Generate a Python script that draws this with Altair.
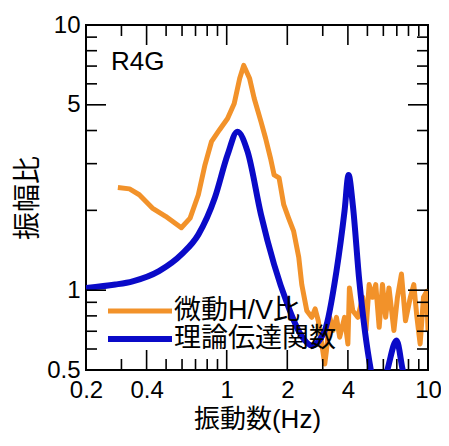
import altair as alt
import pandas as pd

# ---- data ----
hv_freq = [0.288, 0.329, 0.368, 0.427, 0.497, 0.595, 0.658, 0.723, 0.78, 0.84, 0.92, 1.01,
           1.09, 1.16, 1.215, 1.30, 1.37, 1.48, 1.56, 1.65, 1.72, 1.82, 1.92, 2.03, 2.15,
           2.28, 2.36, 2.50, 2.645, 2.75, 2.85, 3.07, 3.13, 3.25, 3.38, 3.51, 3.64, 3.85,
           4.0, 4.07, 4.23, 4.48, 4.74, 4.92, 5.1, 5.3, 5.5, 5.72, 5.94, 6.16, 6.4, 6.77,
           7.05, 7.38, 7.73, 8.17, 8.5, 8.81, 9.14, 9.5, 9.86, 10.0]
hv_amp = [2.44, 2.41, 2.29, 2.04, 1.90, 1.72, 1.87, 2.29, 2.97, 3.63, 4.02, 4.44,
          5.06, 6.28, 7.04, 6.28, 5.28, 4.32, 3.74, 3.15, 2.72, 2.65, 2.10, 1.87, 1.67,
          1.33, 1.05, 0.837, 0.79, 0.85, 0.767, 0.527, 0.593, 0.79, 0.705, 0.79, 0.665, 0.79,
          0.627, 1.02, 0.837, 0.79, 0.94, 0.705, 1.05, 0.94, 1.05, 0.724, 1.05, 0.79, 1.02, 0.705,
          0.94, 1.15, 0.767, 0.94, 1.05, 0.79, 0.627, 0.94, 0.99, 0.70]

tf_freq = [0.2, 0.28, 0.341, 0.461, 0.60, 0.723, 0.873, 1.01, 1.13, 1.27, 1.48, 1.72, 2.0,
           2.32, 2.645, 3.07, 3.51, 3.85, 4.03, 4.23, 4.56, 5.2, 5.7, 6.28, 6.98, 7.49, 8.3, 10.0]
tf_amp = [1.02, 1.05, 1.08, 1.18, 1.37, 1.62, 2.23, 3.24, 3.96, 3.33, 1.93, 1.25, 0.887,
          0.684, 0.619, 0.705, 1.18, 1.99, 2.72, 2.10, 1.08, 0.5, 0.38, 0.5, 0.646, 0.5, 0.38, 0.3]

x_label_vals = [0.2, 0.4, 1, 2, 4, 10]
y_label_vals = [0.5, 1, 5, 10]
x_major = [0.4, 1, 2, 4]
x_minor = [0.3, 0.5, 0.6, 0.7, 0.8, 0.9, 3, 5, 6, 7, 8, 9]
y_major = [1, 5]
y_minor = [0.6, 0.7, 0.8, 0.9, 2, 3, 4, 6, 7, 8, 9]

legend_labels = ["微動H/V比", "理論伝達関数"]
legend_colors = ["#F2922A", "#0A0AC8"]
site_label = ["R4G"]

x_title = "振動数(Hz)"
y_title = "振幅比"

# ---- style ----
FONT = "Liberation Sans, Noto Sans CJK JP"
W, H = 342, 345
MAJ, MIN = 20, 11

xs = alt.Scale(type="log", domain=[0.2, 10], nice=False)
ys = alt.Scale(type="log", domain=[0.5, 10], nice=False)

xax = alt.Axis(values=x_label_vals, format="~g", title=x_title, ticks=False, domain=False,
               grid=False, labelFontSize=24, labelFont=FONT, labelColor="black",
               labelPadding=8, labelFlush=False, labelOverlap=False, labelBound=False,
               titleFontSize=26, titleFont=FONT, titleFontWeight="normal",
               titleColor="black", titlePadding=4)
yax = alt.Axis(values=y_label_vals, format="~g", title=y_title, ticks=False, domain=False,
               grid=False, labelFontSize=24, labelFont=FONT, labelColor="black",
               labelPadding=6, labelFlush=False, labelOverlap=False, labelBound=False,
               titleFontSize=28, titleFont=FONT, titleFontWeight="normal",
               titleColor="black", titlePadding=4)

df_hv = pd.DataFrame({"f": hv_freq, "a": hv_amp})
df_tf = pd.DataFrame({"f": tf_freq, "a": tf_amp})

X = alt.X("f:Q", scale=xs, axis=xax)
Y = alt.Y("a:Q", scale=ys, axis=yax)

hv_line = alt.Chart(df_hv).mark_line(color=legend_colors[0], strokeWidth=5, clip=True,
                                     strokeJoin="round").encode(x=X, y=Y)
tf_line = alt.Chart(df_tf).mark_line(color=legend_colors[1], strokeWidth=6, clip=True,
                                     interpolate="monotone").encode(x=X, y=Y)

layers = [hv_line, tf_line]

def xticks(vals, length):
    d = pd.DataFrame({"f": vals})
    bot = alt.Chart(d).mark_rule(color="black", strokeWidth=1.6).encode(
        x=X, y=alt.value(H), y2=alt.value(H - length))
    top = alt.Chart(d).mark_rule(color="black", strokeWidth=1.6).encode(
        x=X, y=alt.value(0), y2=alt.value(length))
    return [bot, top]

def yticks(vals, length):
    d = pd.DataFrame({"a": vals})
    left = alt.Chart(d).mark_rule(color="black", strokeWidth=1.6).encode(
        y=Y, x=alt.value(0), x2=alt.value(length))
    right = alt.Chart(d).mark_rule(color="black", strokeWidth=1.6).encode(
        y=Y, x=alt.value(W), x2=alt.value(W - length))
    return [left, right]

layers += xticks(x_major, MAJ) + xticks(x_minor, MIN) + yticks(y_major, MAJ) + yticks(y_minor, MIN)

# legend (drawn manually)
leg_y = [286, 314]
leg_w = [5, 6]
for lab, col, yy, sw in zip(legend_labels, legend_colors, leg_y, leg_w):
    d = pd.DataFrame({"label": [lab]})
    layers.append(alt.Chart(d).mark_rule(color=col, strokeWidth=sw).encode(
        x=alt.value(22), x2=alt.value(86), y=alt.value(yy)))
    layers.append(alt.Chart(d).mark_text(align="left", baseline="middle", fontSize=27,
                                         font=FONT, color="black").encode(
        x=alt.value(88), y=alt.value(yy), text="label:N"))

layers.append(alt.Chart(pd.DataFrame({"label": site_label})).mark_text(
    align="left", baseline="middle", fontSize=26, font=FONT, color="black").encode(
    x=alt.value(25), y=alt.value(37), text="label:N"))

chart = alt.layer(*layers).properties(
    width=W, height=H,
    autosize=alt.AutoSizeParams(type="none"),
    padding={"left": 78, "top": 17, "right": 13, "bottom": 67},
).configure_view(stroke="black", strokeWidth=2)

chart.save("out.html", embed_options={"renderer": "svg", "actions": False})
